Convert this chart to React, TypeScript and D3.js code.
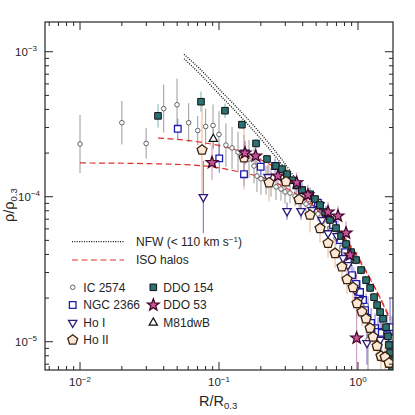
import React from 'react';
import * as d3 from 'd3';

// ---------- data ----------
const ic2574R = [0.0100,0.0200,0.0299,0.0400,0.0499,0.0605,0.0703,0.0802,0.0906,0.1000,0.1122,0.1241,0.1371,0.1513,0.1644,0.1787,0.1876,0.2004,0.2180,0.2368,0.2572,0.2793,0.2985,0.3243,0.3524,0.3828,0.4225,0.4674,0.5156,0.5689,0.6295,0.6953,0.7666,0.8470,0.9355,1.035,1.143,1.181];
const ic2574Rho = [2.31e-4,3.24e-4,2.33e-4,4.05e-4,4.31e-4,3.24e-4,2.86e-4,3.05e-4,3.10e-4,2.69e-4,2.27e-4,2.17e-4,2.03e-4,1.94e-4,1.82e-4,1.63e-4,1.39e-4,1.33e-4,1.30e-4,1.26e-4,1.17e-4,1.13e-4,1.08e-4,1.06e-4,1.01e-4,9.64e-5,8.91e-5,8.36e-5,7.60e-5,6.91e-5,6.08e-5,5.19e-5,4.43e-5,3.55e-5,2.84e-5,2.27e-5,1.79e-5,1.03e-5];
const ic2574Err = [0.2,0.15,0.105,0.165,0.18,0.135,0.1,0.125,0.145,0.16,0.15,0.145,0.14,0.14,0.13,0.12,0.11,0.11,0.1,0.1,0.09,0.08,0.08,0.07,0.07,0.06,0.06,0.06,0.05,0.05,0.05,0.05,0.05,0.06,0.06,0.07,0.08,0.3];

const ngc2366R = [0.0505,0.1004,0.1513,0.1995,0.2529,0.3087,0.3643,0.3958,0.4519,0.5156,0.5890,0.6616,0.7430,0.8072,0.8470,0.9058,0.9686,1.035,1.087,1.125,1.161,1.243,1.327,1.394,1.483,1.618,1.702,1.759];
const ngc2366Rho = [2.94e-4,1.84e-4,1.43e-4,1.61e-4,1.63e-4,1.37e-4,1.20e-4,1.11e-4,1.03e-4,9.05e-5,7.73e-5,6.38e-5,5.03e-5,4.15e-5,3.55e-5,2.88e-5,2.50e-5,2.20e-5,1.94e-5,1.65e-5,1.46e-5,1.35e-5,1.24e-5,1.17e-5,1.15e-5,1.11e-5,1.26e-5,1.06e-5];
const ngc2366Err = [0.07,0.1,0.08,0.06,0.05,0.05,0.05,0.05,0.05,0.05,0.05,0.05,0.06,0.06,0.06,0.07,0.07,0.08,0.08,0.08,0.09,0.1,0.1,0.1,0.12,0.15,0.2,0.15];

const hoIR = [0.0771,0.1538,0.2253,0.3087,0.3890,0.4671,0.5333,0.5512,0.6089,0.7074,0.7808,0.8470,0.9528,1.018,1.161,1.442];
const hoIRho = [9.95e-5,2.02e-4,1.37e-4,7.96e-5,7.96e-5,8.09e-5,8.76e-5,6.91e-5,5.61e-5,5.36e-5,3.78e-5,3.38e-5,2.27e-5,1.94e-5,9.8e-6,1.03e-5];
const hoIErr = [0.25,0.08,0.08,0.06,0.06,0.05,0.05,0.05,0.05,0.05,0.06,0.06,0.07,0.08,0.15,0.15];

const hoIIR = [0.0755,0.1513,0.2291,0.3034,0.3765,0.4519,0.5333,0.6089,0.6839,0.7666,0.8337,0.9211,0.984,1.069,1.143,1.222,1.283,1.372,1.463,1.567,1.671];
const hoIIRho = [2.10e-4,1.86e-4,1.25e-4,1.27e-4,9.57e-5,7.48e-5,6.05e-5,4.78e-5,4.07e-5,3.29e-5,2.69e-5,2.37e-5,1.84e-5,1.61e-5,1.44e-5,1.24e-5,1.08e-5,9.33e-6,7.96e-6,7.84e-6,7.13e-6];
const hoIIErr = [0.33,0.22,0.13,0.1,0.1,0.12,0.1,0.1,0.1,0.1,0.1,0.1,0.1,0.1,0.1,0.1,0.1,0.1,0.1,0.1,0.1];

const ddo154R = [0.0364,0.0742,0.1104,0.1461,0.1847,0.2216,0.2573,0.2842,0.3087,0.3354,0.3643,0.3958,0.4519,0.4909,0.5333,0.5794,0.6295,0.6953,0.7554,0.8206,0.8916,0.9686,1.052,1.143,1.222,1.305,1.373,1.442,1.515,1.592,1.644,1.671,1.702,1.731,1.759];
const ddo154Rho = [3.61e-4,4.52e-4,3.92e-4,3.14e-4,2.33e-4,1.82e-4,1.63e-4,1.55e-4,1.43e-4,1.30e-4,1.20e-4,1.11e-4,1.04e-4,9.64e-5,8.76e-5,7.84e-5,6.91e-5,6.08e-5,5.36e-5,4.72e-5,4.15e-5,3.66e-5,3.12e-5,2.66e-5,2.35e-5,2.03e-5,1.79e-5,1.60e-5,1.44e-5,1.26e-5,1.09e-5,9.49e-6,8.36e-6,7.36e-6,6.70e-6];
const ddo154Err = [0.08,0.07,0.05,0.03,0.03,0.03,0.03,0.03,0.03,0.03,0.03,0.03,0.03,0.03,0.03,0.03,0.03,0.03,0.03,0.03,0.03,0.03,0.03,0.03,0.03,0.03,0.03,0.03,0.03,0.03,0.03,0.03,0.04,0.04,0.04];

const ddo53R = [0.0891,0.1538,0.1837,0.2653,0.3624,0.4362,0.6089,0.7179,0.8206,0.8770,0.9786];
const ddo53Rho = [1.72e-4,2.00e-4,1.91e-4,1.39e-4,1.25e-4,1.03e-4,7.84e-5,7.36e-5,5.62e-5,3.96e-5,1.06e-5];
const ddo53Err = [0.12,0.08,0.08,0.07,0.07,0.07,0.07,0.07,0.08,0.1,0.45];

const m81R = [0.0910];
const m81Rho = [2.50e-4];
const m81Err = [0.07];

// model curves
const nfwR = [0.0560,0.0730,0.1016,0.1416,0.1972,0.2838,0.3828,0.5333];
const nfwRhoA = [8.95e-4,7.02e-4,5.02e-4,3.61e-4,2.54e-4,1.66e-4,1.11e-4,6.91e-5];
const nfwRhoB = [9.60e-4,7.60e-4,5.45e-4,3.92e-4,2.76e-4,1.80e-4,1.20e-4,7.50e-5];

const isoUpperR = [0.0364,0.0730,0.1416,0.2216,0.2884,0.3828,0.5333,0.7430,0.9528,1.327,1.702];
const isoUpperRho = [2.54e-4,2.38e-4,2.06e-4,1.71e-4,1.48e-4,1.20e-4,8.76e-5,5.71e-5,4.16e-5,2.35e-5,1.46e-5];
const isoLowerR = [0.0100,0.0319,0.0730,0.1416,0.2328,0.3243,0.4519,0.6839,1.035,1.442,1.702];
const isoLowerRho = [1.71e-4,1.69e-4,1.64e-4,1.48e-4,1.30e-4,1.11e-4,9.05e-5,6.08e-5,3.55e-5,2.00e-5,1.41e-5];

const xMajor = [0.01, 0.1, 1];
const xMajorExp = ['−2', '−1', '0'];
const yMajor = [1e-5, 1e-4, 1e-3];
const yMajorExp = ['−5', '−4', '−3'];

// ---------- layout ----------
const W = 415, H = 415;
const L = 45, R = 393, T = 22, B = 370;
const FONT = "'Liberation Sans', Arial, Helvetica, sans-serif";
const INK = '#262626';

const x = d3.scaleLog().domain([10 ** -2.252, 10 ** 0.252]).range([L, R]);
const y = d3.scaleLog().domain([10 ** -5.195, 10 ** -2.795]).range([B, T]);

function poly(n: number, r: number, rot: number, inner?: number) {
  const pts: [number, number][] = [];
  const steps = inner ? n * 2 : n;
  for (let i = 0; i < steps; i++) {
    const a = (rot + (i * 360) / steps) * Math.PI / 180;
    const rr = inner && i % 2 === 1 ? inner : r;
    pts.push([rr * Math.cos(a), rr * Math.sin(a)]);
  }
  return 'M' + pts.map(p => p[0].toFixed(2) + ',' + p[1].toFixed(2)).join('L') + 'Z';
}

const shapes: Record<string, string> = {
  circle: '',
  square: 'M-3.3,-3.3L3.3,-3.3L3.3,3.3L-3.3,3.3Z',
  triDown: poly(3, 4.8, 90),
  triUp: poly(3, 4.8, -90),
  pent: poly(5, 5.2, -90),
  star: poly(5, 6.2, -90, 2.6),
};

type Series = { name: string; r: number[]; rho: number[]; err: number[]; shape: string; stroke: string; fill: string; ebar: string; sw: number };

const series: Series[] = [
  { name: 'IC 2574', r: ic2574R, rho: ic2574Rho, err: ic2574Err, shape: 'circle', stroke: '#555', fill: '#fff', ebar: '#9a9a9a', sw: 0.9 },
  { name: 'NGC 2366', r: ngc2366R, rho: ngc2366Rho, err: ngc2366Err, shape: 'square', stroke: '#1c1cb0', fill: '#fff', ebar: '#7474e8', sw: 1.3 },
  { name: 'Ho I', r: hoIR, rho: hoIRho, err: hoIErr, shape: 'triDown', stroke: '#2c1a78', fill: '#fff', ebar: '#7a66c0', sw: 1.3 },
  { name: 'DDO 154', r: ddo154R, rho: ddo154Rho, err: ddo154Err, shape: 'square', stroke: '#111', fill: '#2b7272', ebar: '#78b4b4', sw: 1 },
  { name: 'Ho II', r: hoIIR, rho: hoIIRho, err: hoIIErr, shape: 'pent', stroke: '#3e2410', fill: '#fbe9d6', ebar: '#e8b48e', sw: 1.3 },
  { name: 'DDO 53', r: ddo53R, rho: ddo53Rho, err: ddo53Err, shape: 'star', stroke: '#440628', fill: '#c4559a', ebar: '#c490b4', sw: 1.3 },
  { name: 'M81dwB', r: m81R, rho: m81Rho, err: m81Err, shape: 'triUp', stroke: '#111', fill: '#fff', ebar: '#999', sw: 1.2 },
];

function Marker({ s, cx, cy }: { s: Series; cx: number; cy: number }) {
  if (s.shape === 'circle') return <circle cx={cx} cy={cy} r={2.3} fill={s.fill} stroke={s.stroke} strokeWidth={s.sw} />;
  return <path d={shapes[s.shape]} transform={`translate(${cx},${cy})`} fill={s.fill} stroke={s.stroke} strokeWidth={s.sw} strokeLinejoin="miter" />;
}

const line = d3.line<[number, number]>().x(d => x(d[0])).y(d => y(d[1])).curve(d3.curveMonotoneX);
const zip = (a: number[], b: number[]) => a.map((v, i) => [v, b[i]] as [number, number]);

export default function App() {
  const xMinor = x.ticks(10).filter(t => !xMajor.some(m => Math.abs(m - t) / m < 1e-6));
  const yMinor = y.ticks(10).filter(t => !yMajor.some(m => Math.abs(m - t) / m < 1e-6));
  const legCol1 = [series[0], series[1], series[2], series[4]];
  const legCol2 = [series[3], series[5], series[6]];
  const rowY = [287.3, 305, 322.7, 340];
  return (
    <svg width={W} height={H} style={{ position: 'absolute', left: 0, top: 0, background: '#fff' }} fontFamily={FONT}>
      <defs>
        <clipPath id="plot"><rect x={L} y={T} width={R - L} height={B - T} /></clipPath>
      </defs>
      <rect x={0} y={0} width={W} height={H} fill="#fff" />
      <g clipPath="url(#plot)">
        {series.map(s => s.r.map((r, i) => (
          <line key={s.name + 'e' + i} x1={x(r)} x2={x(r)} y1={y(s.rho[i] * 10 ** s.err[i])} y2={y(s.rho[i] / 10 ** s.err[i])} stroke={s.ebar} strokeWidth={1} />
        )))}
        <path d={line(zip(nfwR, nfwRhoA)) || ''} fill="none" stroke="#111" strokeWidth={1.3} strokeDasharray="1,1.4" />
        <path d={line(zip(nfwR, nfwRhoB)) || ''} fill="none" stroke="#111" strokeWidth={1.3} strokeDasharray="1,1.4" />
        <path d={line(zip(isoUpperR, isoUpperRho)) || ''} fill="none" stroke="#e0302c" strokeWidth={1.2} strokeDasharray="6,3.5" />
        <path d={line(zip(isoLowerR, isoLowerRho)) || ''} fill="none" stroke="#e0302c" strokeWidth={1.2} strokeDasharray="6,3.5" />
        {series.map(s => s.r.map((r, i) => <Marker key={s.name + 'm' + i} s={s} cx={x(r)} cy={y(s.rho[i])} />))}
      </g>
      {/* frame */}
      <rect x={L} y={T} width={R - L} height={B - T} fill="none" stroke={INK} strokeWidth={1.2} />
      {/* ticks */}
      {xMajor.map(t => (
        <g key={'xM' + t}>
          <line x1={x(t)} x2={x(t)} y1={B} y2={B - 8} stroke={INK} strokeWidth={1} />
          <line x1={x(t)} x2={x(t)} y1={T} y2={T + 8} stroke={INK} strokeWidth={1} />
        </g>
      ))}
      {xMinor.map(t => (
        <g key={'xm' + t}>
          <line x1={x(t)} x2={x(t)} y1={B} y2={B - 4} stroke={INK} strokeWidth={1} />
          <line x1={x(t)} x2={x(t)} y1={T} y2={T + 4} stroke={INK} strokeWidth={1} />
        </g>
      ))}
      {yMajor.map(t => (
        <g key={'yM' + t}>
          <line x1={L} x2={L + 8} y1={y(t)} y2={y(t)} stroke={INK} strokeWidth={1} />
          <line x1={R} x2={R - 8} y1={y(t)} y2={y(t)} stroke={INK} strokeWidth={1} />
        </g>
      ))}
      {yMinor.map(t => (
        <g key={'ym' + t}>
          <line x1={L} x2={L + 4} y1={y(t)} y2={y(t)} stroke={INK} strokeWidth={1} />
          <line x1={R} x2={R - 4} y1={y(t)} y2={y(t)} stroke={INK} strokeWidth={1} />
        </g>
      ))}
      {/* tick labels */}
      {xMajor.map((t, i) => (
        <text key={'xl' + t} x={x(t)} y={386} textAnchor="middle" fontSize={11.5} fill={INK}>
          10<tspan dy={-4.5} fontSize={8}>{xMajorExp[i]}</tspan>
        </text>
      ))}
      {yMajor.map((t, i) => (
        <text key={'yl' + t} x={i === 1 ? 40 : 37} y={y(t) + 3.8} textAnchor="end" fontSize={11.5} fill={INK}>
          10<tspan dy={-4.5} fontSize={8}>{yMajorExp[i]}</tspan>
        </text>
      ))}
      {/* axis titles */}
      <text x={199} y={405.5} fontSize={14.5} fill={INK}>
        R/R<tspan dy={3.2} fontSize={9.5}>0.3</tspan>
      </text>
      <text transform="translate(14,222) rotate(-90)" fontSize={14.5} fill={INK}>
        ρ/ρ<tspan dy={3.2} fontSize={9.5}>0.3</tspan>
      </text>
      {/* legend */}
      <line x1={72} x2={124} y1={241.7} y2={241.7} stroke="#111" strokeWidth={1.2} strokeDasharray="1,1.4" />
      <text x={136} y={246} fontSize={12} fill={INK}>NFW (&lt; 110 km s<tspan dy={-4.5} fontSize={8}>−1</tspan><tspan dy={4.5}>)</tspan></text>
      <line x1={72} x2={124} y1={260} y2={260} stroke="#e0302c" strokeWidth={1.2} strokeDasharray="6,3.5" />
      <text x={136} y={264.3} fontSize={12} fill={INK}>ISO halos</text>
      {legCol1.map((s, i) => (
        <g key={'l1' + s.name}>
          <Marker s={s} cx={72.7} cy={rowY[i]} />
          <text x={83.3} y={rowY[i] + 4.3} fontSize={12} fill={INK}>{s.name}</text>
        </g>
      ))}
      {legCol2.map((s, i) => (
        <g key={'l2' + s.name}>
          <Marker s={s} cx={153.3} cy={rowY[i]} />
          <text x={163.3} y={rowY[i] + 4.3} fontSize={12} fill={INK}>{s.name}</text>
        </g>
      ))}
    </svg>
  );
}
